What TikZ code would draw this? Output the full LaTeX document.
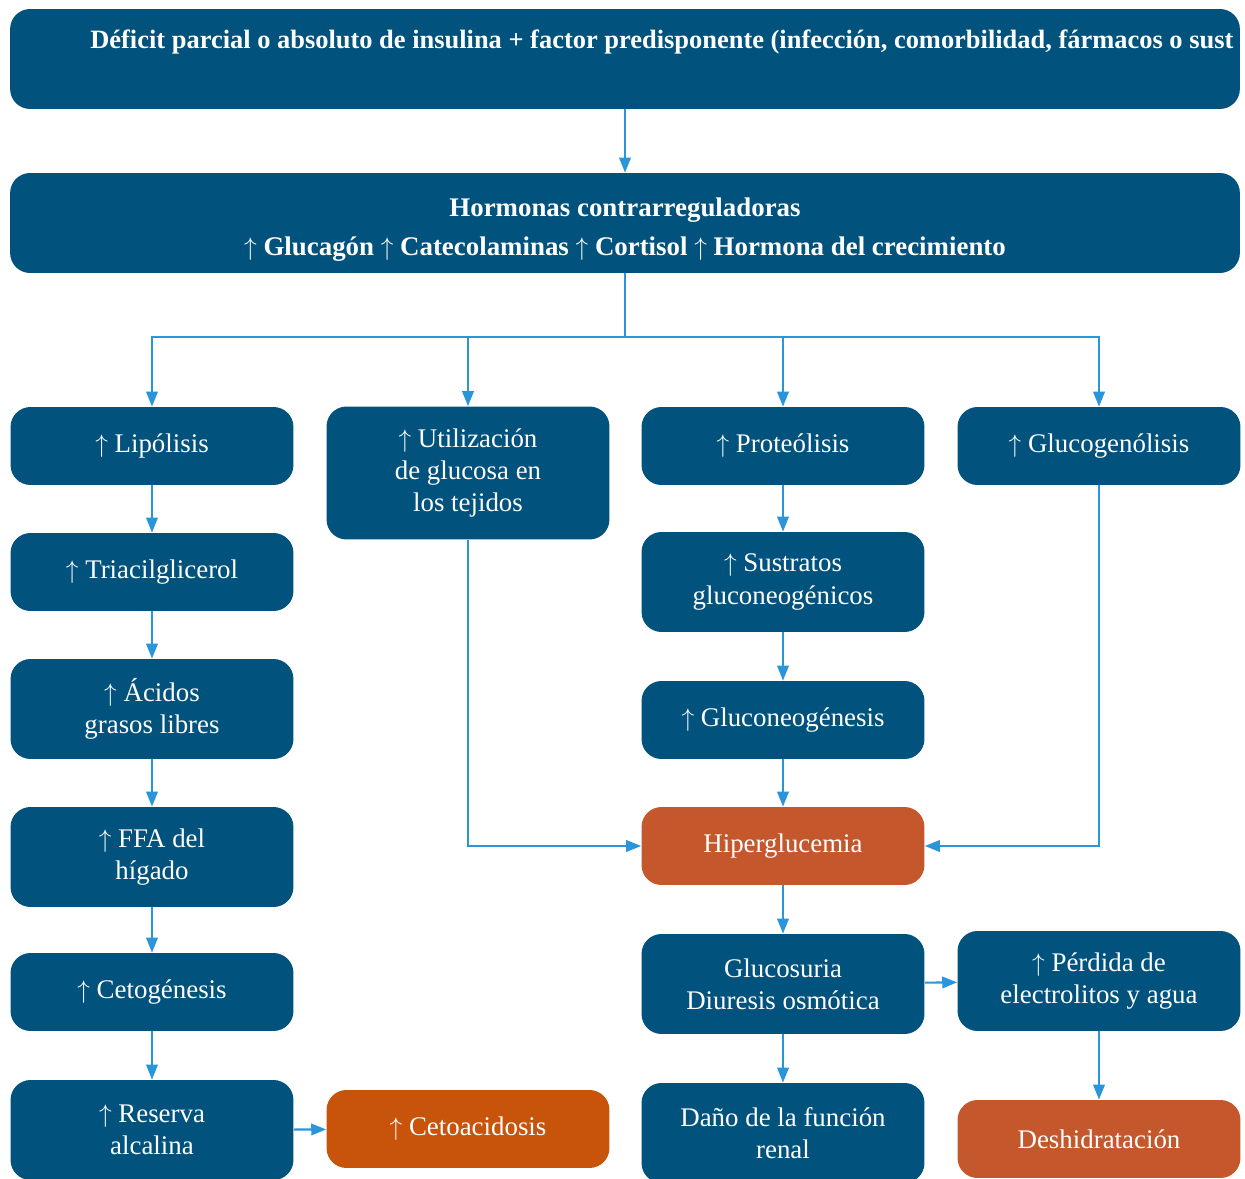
\documentclass[tikz,border=0pt]{standalone}
\usepackage{fontspec}
\setmainfont{Liberation Serif}
\usetikzlibrary{arrows.meta,positioning}
\definecolor{dkblue}{HTML}{01527C}
\definecolor{ketor}{HTML}{C8530A}
\definecolor{hypor}{HTML}{C4572B}
\definecolor{lnblue}{HTML}{2B95D9}
\newcommand{\upar}{$\uparrow$}

\begin{document}
\begin{tikzpicture}[x=0.02cm, y=-0.02cm,
    font=\fontsize{15.3}{18.4}\selectfont, >={Triangle[length=8.5pt,width=6.5pt]},
    box/.style={rectangle,fill=dkblue,text=white,rounded corners=0.4cm,
                align=center,minimum width=5.66cm,minimum height=1.56cm,inner sep=2pt},
    tall/.style={box,minimum height=2cm},
    wide/.style={box,minimum width=24.6cm,minimum height=2cm},
    boldtxt/.style={text=white,align=center,inner sep=0pt,
                    font=\bfseries\fontsize{15.3}{22.2}\selectfont},
    hot/.style={box,fill=#1},
    arr/.style={->,lnblue,line width=1.2pt},
    ln/.style={lnblue,line width=1.2pt}]

  \clip (0,0) rectangle (1245,1179);

  % top boxes
  \node[wide] (def) at (625,59) {};
  \node[boldtxt,anchor=west,font=\bfseries\fontsize{15.05}{18}\selectfont] (deft) at (90,42)
       {Déficit parcial o absoluto de insulina + factor predisponente (infección, comorbilidad, fármacos o sust};
  \node[wide] (hor) at (625,223) {};
  \node[boldtxt] (hort) at (625,230)
       {Hormonas contrarreguladoras\\ \upar{} Glucagón \upar{} Catecolaminas \upar{} Cortisol \upar{} Hormona del crecimiento};

  % first row
  \node[box]  (lip) at (152,446) {\upar{} Lipólisis};
  \node[box, minimum height=2.66cm] (uti) at (468,473) {\upar{} Utilización\\de glucosa en\\los tejidos};
  \node[box]  (pro) at (783,446) {\upar{} Proteólisis};
  \node[box]  (glg) at (1099,446) {\upar{} Glucogenólisis};

  % left column
  \node[box]  (tri) at (152,572) {\upar{} Triacilglicerol};
  \node[tall] (agl) at (152,709) {\upar{} Ácidos\\grasos libres};
  \node[tall] (ffa) at (152,857) {\upar{} FFA del\\hígado};
  \node[box]  (cet) at (152,992) {\upar{} Cetogénesis};
  \node[tall] (res) at (152,1130) {\upar{} Reserva\\alcalina};
  \node[hot=ketor] (cac) at (468,1129) {\upar{} Cetoacidosis};

  % right columns
  \node[tall] (sus) at (783,582) {\upar{} Sustratos\\gluconeogénicos};
  \node[box]  (gng) at (783,720) {\upar{} Gluconeogénesis};
  \node[hot=hypor] (hip) at (783,846) {Hiperglucemia};
  \node[tall] (glu) at (783,984) {Glucosuria\\Diuresis osmótica};
  \node[tall] (per) at (1099,981) {\upar{} Pérdida de\\electrolitos y agua};
  \node[tall] (dan) at (783,1133) {Daño de la función\\renal};
  \node[hot=hypor] (des) at (1099,1139) {Deshidratación};

  % connectors
  \coordinate (split) at (625,337);
  \draw[arr] (def) -- (hor);
  \draw[ln]  (hor) -- (split);
  \foreach \t in {lip,uti,pro,glg}
    \draw[arr] (split) -| (\t);

  \draw[arr] (lip) -- (tri);
  \draw[arr] (tri) -- (agl);
  \draw[arr] (agl) -- (ffa);
  \draw[arr] (ffa) -- (cet);
  \draw[arr] (cet) -- (res);
  \draw[arr] (res) -- (cac);

  \draw[arr] (pro) -- (sus);
  \draw[arr] (sus) -- (gng);
  \draw[arr] (gng) -- (hip);
  \draw[arr] (uti) |- (hip);
  \draw[arr] (glg) |- (hip);
  \draw[arr] (hip) -- (glu);
  \draw[arr] (glu) -- (per);
  \draw[arr] (glu) -- (dan);
  \draw[arr] (per) -- (des);
\end{tikzpicture}
\end{document}
